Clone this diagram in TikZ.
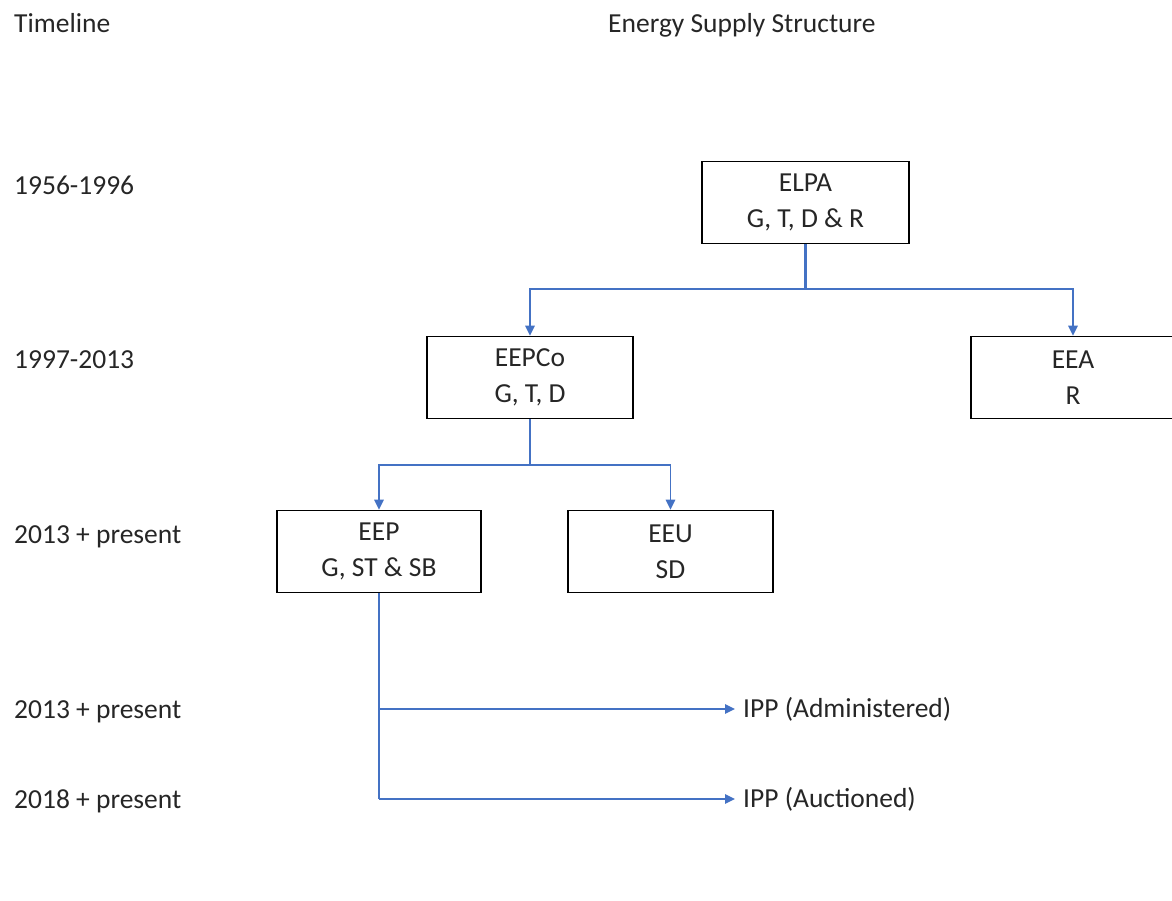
\documentclass[tikz,border=0pt]{standalone}
\usepackage{fontspec}
\setmainfont{Carlito}
\usetikzlibrary{arrows.meta}
\definecolor{lineblue}{HTML}{4472C4}
\definecolor{txt}{HTML}{262626}
\begin{document}
\begin{tikzpicture}[x=1pt,y=-1pt,
  box/.style={draw=black, line width=1.6pt, minimum width=#1, minimum height=82pt, inner sep=0pt, align=center, font=\fontsize{27.5}{36}\selectfont, text=txt},
  lab/.style={anchor=base west, inner sep=0pt, font=\fontsize{27.5}{33}\selectfont, text=txt},
  ipp/.style={anchor=west, inner xsep=8pt, inner ysep=0pt, font=\fontsize{27.5}{33}\selectfont, text=txt},
  conn/.style={draw=lineblue, line width=1.4pt},
  arr/.style={conn, -{Triangle[length=10pt,width=9.5pt]}},
]
\useasboundingbox (0,0) rectangle (1172,901);

% headers
\node[lab] (hTimeline) at (14,33) {Timeline};
\node[lab] (hStructure) at (608,33) {Energy Supply Structure};

% timeline labels
\node[lab] (t1) at (14,195) {1956-1996};
\node[lab] (t2) at (14,368) {1997-2013};
\node[lab] (t3) at (14,543) {2013 + present};
\node[lab] (t4) at (14,718) {2013 + present};
\node[lab] (t5) at (14,808) {2018 + present};

% boxes
\node[box=207pt] (elpa) at (805.5,202.5) {ELPA\\G, T, D \& R};
\node[box=206pt] (eepco) at (530,377.5) {EEPCo\\G, T, D};
\node[box=204pt] (eea) at (1073,377.5) {EEA\\R};
\node[box=204pt] (eep) at (379,551.5) {EEP\\G, ST \& SB};
\node[box=205pt] (eeu) at (670.5,551.5) {EEU\\SD};

% IPP labels
\node[ipp] (ipp1) at (735,709) {IPP (Administered)};
\node[ipp] (ipp2) at (735,799) {IPP (Auctioned)};

% junctions
\coordinate (j1) at (805.5,289);
\coordinate (j2) at (530,465);
\coordinate (b1) at (379,709);
\coordinate (b2) at (379,799);

% connectors
\draw[conn, line width=2.6pt] (elpa.south) -- (j1);
\draw[arr] (j1) -| (eepco.north);
\draw[arr] (j1) -| (eea.north);

\draw[conn] (eepco.south) -- (j2);
\draw[arr] (j2) -| (eep.north);
\draw[arr] (j2) -| (eeu.north);

\draw[conn] (eep.south) -- (b2);
\draw[arr] (b1) -- (ipp1.west);
\draw[arr] (b2) -- (ipp2.west);
\end{tikzpicture}
\end{document}
